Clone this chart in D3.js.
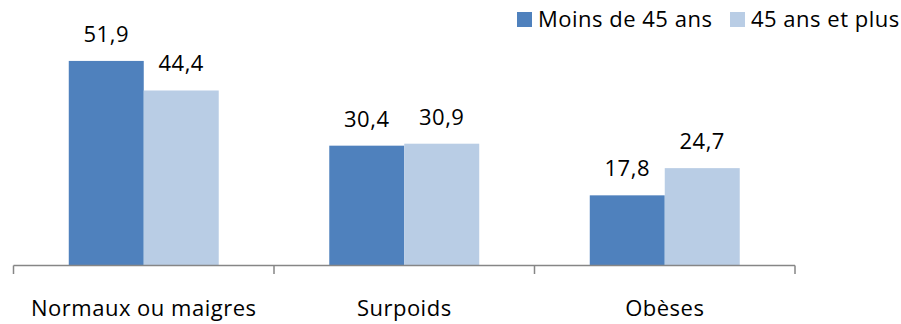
<!DOCTYPE html>
<html>
<head>
<meta charset="utf-8">
<script src="https://cdn.jsdelivr.net/npm/d3@7"></script>
<style>
  html, body { margin: 0; padding: 0; background: #fff; }
  svg { display: block; }
  text { font-family: "Open Sans", Lato, sans-serif; fill: #000; letter-spacing: 0.5px; }
</style>
</head>
<body>
<svg id="chart" width="901" height="324"></svg>
<script>
// Categories and series values
const categories = ["Normaux ou maigres", "Surpoids", "Obèses"];
const seriesNames = ["Moins de 45 ans", "45 ans et plus"];
const under45 = [51.9, 30.4, 17.8];
const over45 = [44.4, 30.9, 24.7];
const colors = ["#4F81BD", "#B9CDE5"];

const fmt = v => v.toFixed(1).replace(".", ",");

const svg = d3.select("#chart");
const width = 901, height = 324;
const margin = { left: 13.5, right: 106, top: 29, bottom: 58.5 };
const plotW = width - margin.left - margin.right;
const baseY = height - margin.bottom;
const fontSize = 22;

const x = d3.scaleBand()
  .domain(categories)
  .range([margin.left, margin.left + plotW])
  .paddingInner(0)
  .paddingOuter(0);

// Two adjacent bars centred in each category, with wide gaps on either side
const inner = d3.scaleBand()
  .domain(seriesNames)
  .range([0, x.bandwidth()])
  .paddingInner(0)
  .paddingOuter(0.737);

const y = d3.scaleLinear()
  .domain([0, 60])
  .range([baseY, margin.top]);

const data = categories.map((c, i) => ({
  cat: c,
  vals: [under45[i], over45[i]]
}));

// Bars
const groups = svg.selectAll("g.grp")
  .data(data)
  .join("g")
  .attr("class", "grp")
  .attr("transform", d => `translate(${x(d.cat)},0)`);

groups.selectAll("rect")
  .data(d => d.vals.map((v, j) => ({ v, s: seriesNames[j], j })))
  .join("rect")
  .attr("x", d => inner(d.s))
  .attr("width", inner.bandwidth())
  .attr("y", d => y(d.v))
  .attr("height", d => baseY - y(d.v))
  .attr("fill", d => colors[d.j]);

// Value labels
groups.selectAll("text.val")
  .data(d => d.vals.map((v, j) => ({ v, s: seriesNames[j], j })))
  .join("text")
  .attr("class", "val")
  .attr("x", d => inner(d.s) + inner.bandwidth() / 2)
  .attr("y", d => y(d.v) - 19)
  .attr("text-anchor", "middle")
  .attr("font-size", fontSize)
  .text(d => fmt(d.v));

// Category axis with ticks between categories
const axisG = svg.append("g");
axisG.append("line")
  .attr("x1", x.range()[0]).attr("x2", x.range()[1])
  .attr("y1", baseY).attr("y2", baseY)
  .attr("stroke", "#868686").attr("stroke-width", 1.5);

const tickXs = categories.map(c => x(c)).concat([x.range()[1]]);
axisG.selectAll("line.tick")
  .data(tickXs)
  .join("line")
  .attr("class", "tick")
  .attr("x1", d => d).attr("x2", d => d)
  .attr("y1", baseY).attr("y2", baseY + 8.5)
  .attr("stroke", "#868686").attr("stroke-width", 1.5);

axisG.selectAll("text.cat")
  .data(categories)
  .join("text")
  .attr("class", "cat")
  .attr("x", d => x(d) + x.bandwidth() / 2)
  .attr("y", 316)
  .attr("text-anchor", "middle")
  .attr("font-size", fontSize)
  .text(d => d);

// Legend
const legendX = [517, 730];
const legend = svg.selectAll("g.leg")
  .data(seriesNames)
  .join("g")
  .attr("class", "leg")
  .attr("transform", (d, i) => `translate(${legendX[i]},12)`);
legend.append("rect")
  .attr("width", 15).attr("height", 15)
  .attr("fill", (d, i) => colors[i]);
legend.append("text")
  .attr("x", 21).attr("y", 15)
  .attr("font-size", fontSize)
  .text(d => d);
</script>
</body>
</html>
